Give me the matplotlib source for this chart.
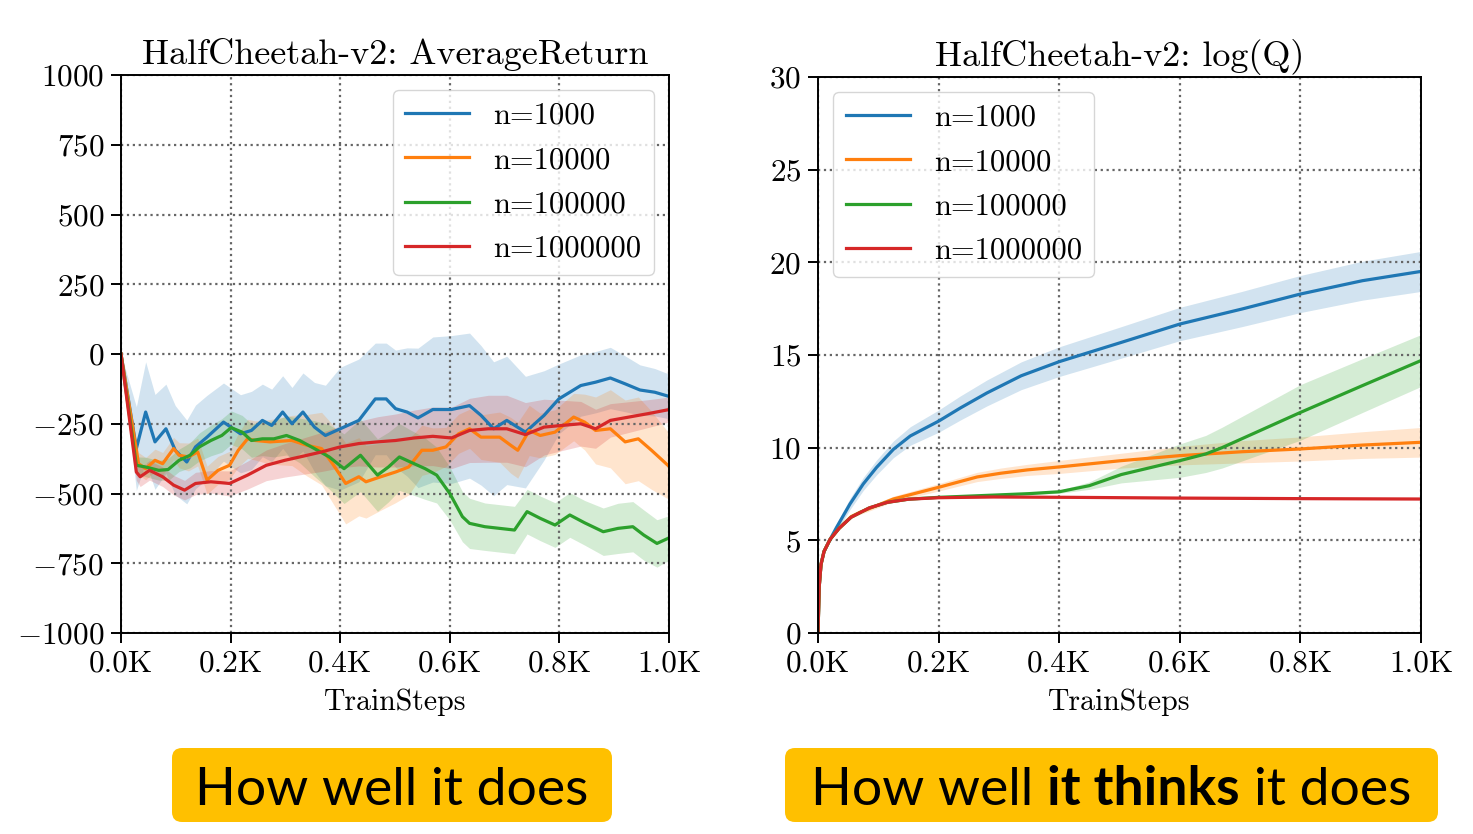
import matplotlib
matplotlib.use("Agg")
import matplotlib.pyplot as plt
from matplotlib.patches import FancyBboxPatch
from matplotlib.ticker import FuncFormatter, MultipleLocator

labels = ["n=1000", "n=10000", "n=100000", "n=1000000"]
colors = ["#1f77b4", "#ff7f0e", "#2ca02c", "#d62728"]

# ---- left panel: AverageReturn (train step, mean, band half width) ----
ret_x_1k = [0, 28, 45, 62, 82, 99, 120, 136, 157, 187, 218, 238, 258, 275, 295, 312, 332, 353, 373, 400, 434,
            464, 484, 501, 522, 542, 569, 603, 636, 657, 680, 704, 738, 772, 799, 839, 866, 893, 920, 947, 974, 1000]
ret_y_1k = [0, -339, -208, -315, -268, -345, -387, -333, -298, -244, -286, -274, -238, -256, -208, -250, -208, -262, -292, -268, -238,
            -161, -161, -196, -208, -229, -199, -199, -185, -220, -268, -238, -280, -220, -161, -113, -101, -86, -107, -129, -137, -152]
ret_s_1k = [0, 150, 180, 170, 160, 160, 150, 150, 150, 140, 140, 140, 130, 130, 130, 130, 140, 160, 180, 220, 220,
            200, 200, 210, 230, 250, 260, 265, 260, 250, 240, 230, 200, 160, 125, 110, 110, 110, 100, 90, 85, 80]

ret_x_10k = [0, 32, 45, 62, 76, 96, 106, 123, 140, 157, 177, 198, 214, 231, 245, 272, 312, 339, 366, 386, 410, 434, 447,
             474, 501, 525, 549, 569, 593, 616, 636, 657, 691, 711, 724, 745, 765, 792, 826, 846, 866, 893, 920, 944, 968, 998]
ret_y_10k = [0, -393, -411, -381, -393, -339, -363, -369, -351, -452, -417, -399, -345, -304, -310, -315, -310, -327, -339, -393, -464, -440, -458,
             -440, -423, -405, -345, -345, -333, -286, -268, -298, -298, -327, -345, -274, -292, -280, -226, -244, -274, -268, -315, -304, -345, -399]
ret_s_10k = [0, 40, 40, 40, 40, 40, 45, 50, 50, 50, 50, 50, 60, 70, 70, 80, 90, 110, 130, 140, 145, 140, 130,
             120, 110, 100, 90, 80, 70, 70, 70, 80, 90, 100, 100, 90, 80, 80, 85, 100, 120, 140, 150, 150, 140, 120]

ret_x_100k = [0, 28, 45, 69, 86, 106, 126, 143, 164, 184, 201, 221, 238, 258, 279, 302, 326, 353, 380, 407, 437, 468,
              488, 508, 528, 555, 576, 600, 623, 636, 664, 691, 718, 741, 765, 792, 819, 846, 880, 907, 934, 954, 978, 998]
ret_y_100k = [0, -399, -405, -417, -414, -381, -363, -333, -310, -292, -264, -280, -310, -304, -304, -292, -310, -339, -369, -411, -363, -434,
              -405, -369, -387, -411, -434, -500, -583, -607, -619, -625, -631, -565, -589, -613, -577, -605, -637, -625, -619, -649, -679, -661]
ret_s_100k = [0, 30, 35, 35, 40, 40, 45, 50, 55, 60, 60, 60, 60, 60, 65, 70, 80, 100, 115, 125, 130, 130,
              125, 120, 115, 110, 100, 95, 90, 90, 85, 85, 85, 80, 80, 80, 80, 80, 85, 90, 90, 90, 85, 80]

ret_x_1m = [0, 28, 35, 52, 76, 96, 116, 136, 164, 198, 231, 265, 299, 333, 366, 400, 434,
            468, 501, 535, 569, 603, 636, 670, 704, 738, 772, 805, 839, 866, 893, 927, 961, 998]
ret_y_1m = [0, -423, -440, -417, -440, -470, -488, -464, -458, -464, -434, -399, -381, -366, -351, -333, -321,
            -315, -310, -301, -295, -301, -274, -268, -268, -289, -262, -256, -250, -268, -238, -226, -214, -200]
ret_s_1m = [0, 30, 35, 35, 35, 35, 35, 40, 40, 45, 50, 55, 60, 65, 70, 75, 80,
            90, 95, 100, 105, 110, 115, 120, 120, 115, 100, 90, 80, 70, 60, 55, 50, 45]

# ---- right panel: log(Q) ----
q_x_1k = [0, 2, 5, 10, 20, 31, 53, 75, 97, 125, 153, 200, 236, 280, 337, 400, 503, 600, 703, 800, 903, 1000]
q_y_1k = [0, 2.5, 3.7, 4.4, 5.05, 5.71, 6.96, 8.04, 8.93, 9.91, 10.63, 11.43, 12.14, 12.95, 13.88, 14.64, 15.68, 16.67, 17.48, 18.29, 19.01, 19.51]
q_s_1k = [0, 0.05, 0.1, 0.1, 0.15, 0.2, 0.3, 0.35, 0.4, 0.45, 0.5, 0.6, 0.65, 0.7, 0.75, 0.8, 0.85, 0.9, 0.95, 1.0, 1.05, 1.08]

q_x_10k = [0, 2, 5, 10, 20, 35, 55, 70, 125, 200, 264, 303, 347, 400, 503, 600, 703, 800, 903, 1000]
q_y_10k = [0, 2.5, 3.7, 4.4, 5.05, 5.65, 6.28, 6.52, 7.23, 7.86, 8.42, 8.62, 8.8, 8.96, 9.3, 9.57, 9.78, 9.93, 10.14, 10.29]
q_s_10k = [0, 0, 0.05, 0.05, 0.05, 0.1, 0.1, 0.12, 0.15, 0.2, 0.25, 0.28, 0.3, 0.35, 0.4, 0.5, 0.6, 0.65, 0.72, 0.8]

q_x_100k = [0, 2, 5, 10, 20, 35, 55, 85, 115, 150, 200, 291, 350, 400, 450, 503, 600, 643, 670, 800, 903, 1000]
q_y_100k = [0, 2.5, 3.7, 4.4, 5.05, 5.65, 6.25, 6.75, 7.05, 7.22, 7.32, 7.44, 7.52, 7.62, 7.95, 8.55, 9.3, 9.66, 10.0, 11.9, 13.35, 14.7]
q_s_100k = [0, 0, 0.05, 0.05, 0.05, 0.05, 0.05, 0.05, 0.05, 0.05, 0.05, 0.05, 0.05, 0.08, 0.2, 0.45, 0.9, 1.0, 1.1, 1.5, 1.45, 1.4]

q_x_1m = [0, 2, 5, 10, 20, 35, 55, 85, 115, 150, 200, 291, 419, 600, 800, 1000]
q_y_1m = [0, 2.5, 3.7, 4.4, 5.05, 5.65, 6.25, 6.75, 7.05, 7.22, 7.3, 7.34, 7.32, 7.28, 7.25, 7.23]
q_s_1m = [0, 0, 0.05, 0.05, 0.05, 0.05, 0.05, 0.05, 0.05, 0.05, 0.05, 0.05, 0.05, 0.05, 0.05, 0.05]

ret_series = [(ret_x_1k, ret_y_1k, ret_s_1k), (ret_x_10k, ret_y_10k, ret_s_10k),
              (ret_x_100k, ret_y_100k, ret_s_100k), (ret_x_1m, ret_y_1m, ret_s_1m)]
q_series = [(q_x_1k, q_y_1k, q_s_1k), (q_x_10k, q_y_10k, q_s_10k),
            (q_x_100k, q_y_100k, q_s_100k), (q_x_1m, q_y_1m, q_s_1m)]

plt.rcParams["font.family"] = "cmr10"
plt.rcParams["mathtext.fontset"] = "cm"
plt.rcParams["axes.formatter.use_mathtext"] = True
plt.rcParams["font.size"] = 22

W, H = 1473, 834
fig = plt.figure(figsize=(W / 100, H / 100), dpi=100)
ax1 = fig.add_axes([121 / W, 1 - 633 / H, 548 / W, 558 / H])
ax2 = fig.add_axes([818 / W, 1 - 633 / H, 603 / W, 556 / H])


def draw(ax, series):
    for (x, y, s), c, lab in zip(series, colors, labels):
        lo = [a - b for a, b in zip(y, s)]
        hi = [a + b for a, b in zip(y, s)]
        ax.fill_between(x, lo, hi, color=c, alpha=0.2, linewidth=0)
        ax.plot(x, y, color=c, lw=2.3, label=lab)
    ax.set_xlim(0, 1000)
    ax.xaxis.set_major_locator(MultipleLocator(200))
    ax.xaxis.set_major_formatter(FuncFormatter(lambda v, p: f"{v / 1000:.1f}K"))
    ax.grid(True, linestyle=":", color="0.4", linewidth=1.6)
    ax.tick_params(direction="out", length=7, width=1.4, labelsize=22.5, pad=5)
    for sp in ax.spines.values():
        sp.set_linewidth(1.4)
    ax.set_xlabel("TrainSteps", fontsize=21.5, labelpad=8)
    ax.legend(fontsize=22, handlelength=2.1, handletextpad=0.8, labelspacing=0.55,
              loc="upper right" if ax is ax1 else "upper left")


draw(ax1, ret_series)
ax1.set_ylim(-1000, 1000)
ax1.yaxis.set_major_locator(MultipleLocator(250))
ax1.set_title("HalfCheetah-v2: AverageReturn", fontsize=26, pad=8)

draw(ax2, q_series)
ax2.set_ylim(0, 30)
ax2.yaxis.set_major_locator(MultipleLocator(5))
ax2.set_title("HalfCheetah-v2: log(Q)", fontsize=26, pad=8)

# ---- captions under the charts ----
ov = fig.add_axes([0, 0, 1, 1], zorder=-1)
ov.set_xlim(0, W)
ov.set_ylim(H, 0)
ov.axis("off")
gold = "#ffc000"
ov.add_patch(FancyBboxPatch((172, 748), 440, 74, boxstyle="round,pad=0,rounding_size=10",
                            facecolor=gold, edgecolor="none"))
ov.add_patch(FancyBboxPatch((785, 748), 653, 74, boxstyle="round,pad=0,rounding_size=10",
                            facecolor=gold, edgecolor="none"))

cap_font = dict(family="Lato", fontsize=38.5, color="black", va="baseline")
ov.text(392, 805, "How well it does", ha="center", **cap_font)

r = fig.canvas.get_renderer()
parts = [("How well", "normal"), ("it thinks", "bold"), ("it does", "normal")]
pieces = [ov.text(0, 805, s, ha="left", weight=w, **cap_font) for s, w in parts]
t_a = ov.text(0, 805, "H H", **cap_font)
t_b = ov.text(0, 805, "HH", **cap_font)
gap = t_a.get_window_extent(r).width - t_b.get_window_extent(r).width
t_a.remove()
t_b.remove()
widths = [p.get_window_extent(r).width for p in pieces]
total = sum(widths) + gap * (len(pieces) - 1)
x0 = 1111 - total / 2
for p, w in zip(pieces, widths):
    p.set_x(x0)
    x0 += w + gap

fig.savefig("out.png", dpi=100)
